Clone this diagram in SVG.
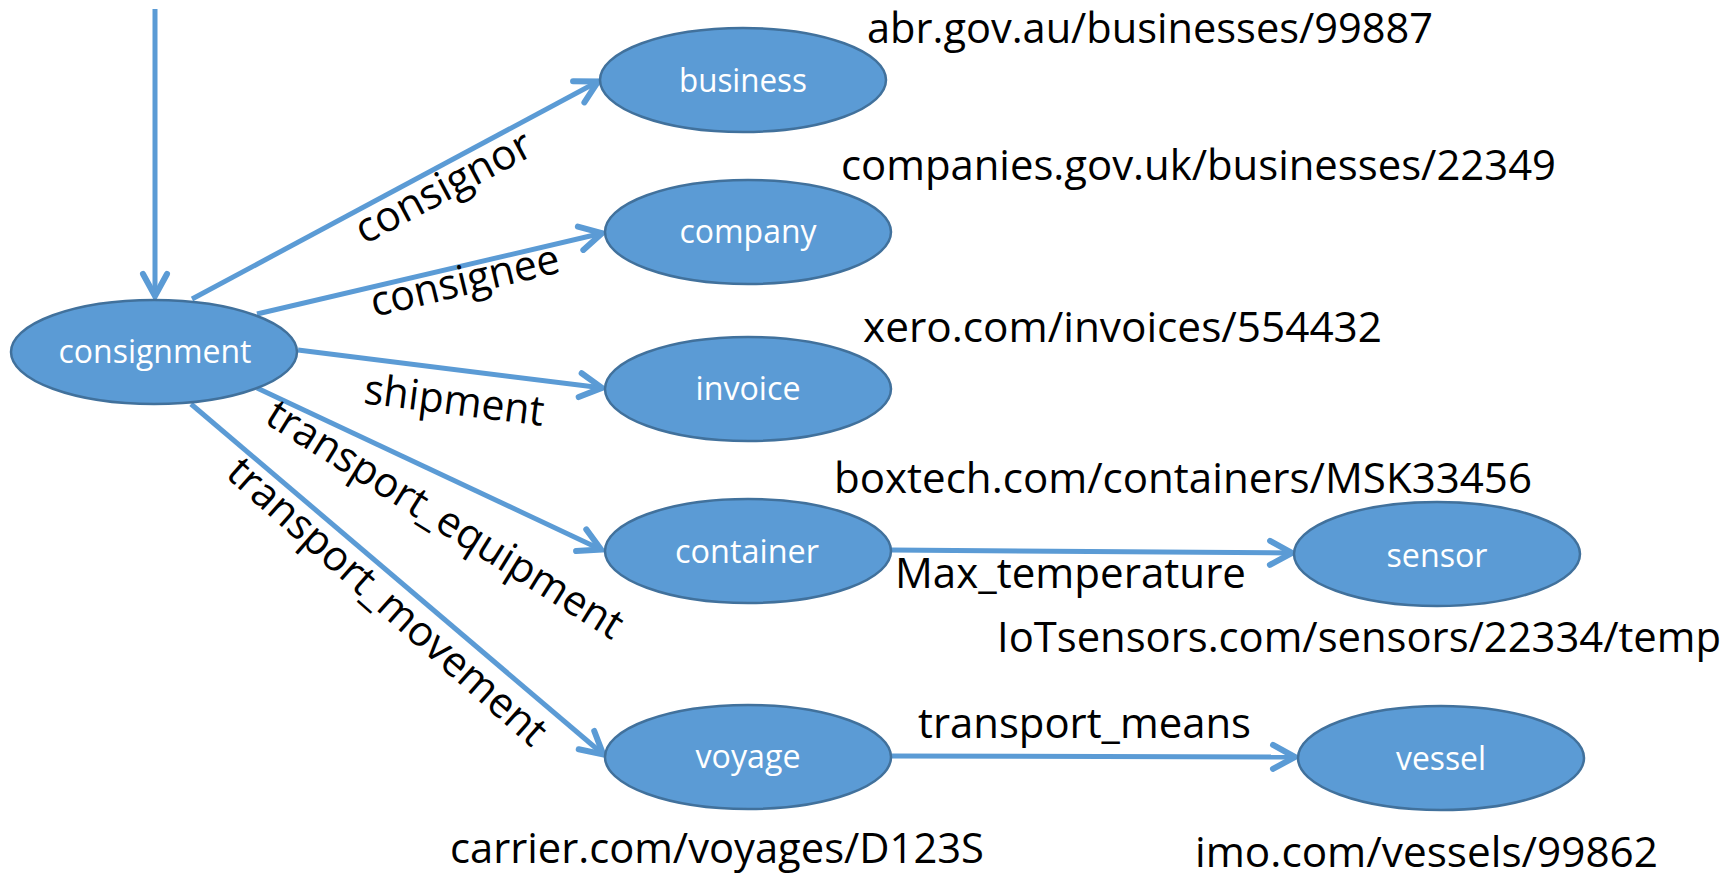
<svg xmlns="http://www.w3.org/2000/svg" width="1728" height="879" viewBox="0 0 1728 879">
<style>
.node{fill:#5B9BD5;stroke:#41719C;stroke-width:2.5}
.nl{font-family:"Open Sans","Noto Sans","Liberation Sans",sans-serif;font-size:33px;fill:#ffffff;text-anchor:middle}
.tl{font-family:"Open Sans","Noto Sans","Liberation Sans",sans-serif;font-size:42px;fill:#000000}
.el{font-family:"Open Sans","Noto Sans","Liberation Sans",sans-serif;font-size:42px;fill:#000000;text-anchor:middle}
.edge{stroke:#5B9BD5;stroke-width:5;fill:none;marker-end:url(#arr)}
</style>
<defs>
<marker id="arr" markerUnits="userSpaceOnUse" viewBox="-28 -16 32 32" refX="0" refY="0" markerWidth="32" markerHeight="32" orient="auto" overflow="visible">
<path d="M-23,-12 L-1,0 L-23,12" fill="none" stroke="#5B9BD5" stroke-width="6" stroke-linejoin="miter" stroke-linecap="round"/>
</marker>
</defs>
<g id="connectors">
<line class="edge" x1="155" y1="9" x2="155" y2="297"/>
<line class="edge" x1="192" y1="299" x2="599" y2="81"/>
<line class="edge" x1="257" y1="314" x2="603" y2="233"/>
<line class="edge" x1="298" y1="350" x2="603" y2="388"/>
<line class="edge" x1="257" y1="388" x2="602" y2="550"/>
<line class="edge" x1="191" y1="404" x2="604" y2="755"/>
<line class="edge" x1="891" y1="550" x2="1293" y2="553"/>
<line class="edge" x1="891" y1="756" x2="1296" y2="757"/>
<text class="el" transform="translate(450,199.5) rotate(-28)" textLength="194" lengthAdjust="spacingAndGlyphs">consignor</text>
<text class="el" transform="translate(468,294.5) rotate(-13.5)" textLength="193" lengthAdjust="spacingAndGlyphs">consignee</text>
<text class="el" transform="translate(452.5,414.5) rotate(7.2)" textLength="181" lengthAdjust="spacingAndGlyphs">shipment</text>
<text class="el" transform="translate(444,521) rotate(32)" y="12" textLength="412" lengthAdjust="spacingAndGlyphs">transport_equipment</text>
<text class="el" transform="translate(386,603) rotate(41.5)" y="12" textLength="411" lengthAdjust="spacingAndGlyphs">transport_movement</text>
<text class="tl" x="895" y="588" textLength="351" lengthAdjust="spacingAndGlyphs">Max_temperature</text>
<text class="tl" x="918" y="738" textLength="333" lengthAdjust="spacingAndGlyphs">transport_means</text>
</g>
<g id="consignment">
<ellipse class="node" cx="154" cy="352" rx="143" ry="52"/>
<text class="nl" x="155" y="363" textLength="193" lengthAdjust="spacingAndGlyphs">consignment</text>
</g>
<g id="business">
<ellipse class="node" cx="743" cy="80" rx="143" ry="52"/>
<text class="nl" x="743" y="92" textLength="128" lengthAdjust="spacingAndGlyphs">business</text>
<text class="tl" x="867" y="43" textLength="566" lengthAdjust="spacingAndGlyphs">abr.gov.au/businesses/99887</text>
</g>
<g id="company">
<ellipse class="node" cx="748" cy="232" rx="143" ry="52"/>
<text class="nl" x="748" y="243" textLength="137" lengthAdjust="spacingAndGlyphs">company</text>
<text class="tl" x="841" y="180" textLength="715" lengthAdjust="spacingAndGlyphs">companies.gov.uk/businesses/22349</text>
</g>
<g id="invoice">
<ellipse class="node" cx="748" cy="389" rx="143" ry="52"/>
<text class="nl" x="748" y="400" textLength="105" lengthAdjust="spacingAndGlyphs">invoice</text>
<text class="tl" x="863" y="342" textLength="519" lengthAdjust="spacingAndGlyphs">xero.com/invoices/554432</text>
</g>
<g id="container">
<ellipse class="node" cx="748" cy="551" rx="143" ry="52"/>
<text class="nl" x="747" y="563" textLength="144" lengthAdjust="spacingAndGlyphs">container</text>
<text class="tl" x="834" y="493" textLength="698" lengthAdjust="spacingAndGlyphs">boxtech.com/containers/MSK33456</text>
</g>
<g id="sensor">
<ellipse class="node" cx="1437" cy="554" rx="143" ry="52"/>
<text class="nl" x="1437" y="567" textLength="101" lengthAdjust="spacingAndGlyphs">sensor</text>
<text class="tl" x="997" y="652" textLength="724" lengthAdjust="spacingAndGlyphs">IoTsensors.com/sensors/22334/temp</text>
</g>
<g id="voyage">
<ellipse class="node" cx="748" cy="757" rx="143" ry="52"/>
<text class="nl" x="748" y="768" textLength="105" lengthAdjust="spacingAndGlyphs">voyage</text>
<text class="tl" x="450" y="863" textLength="534" lengthAdjust="spacingAndGlyphs">carrier.com/voyages/D123S</text>
</g>
<g id="vessel">
<ellipse class="node" cx="1441" cy="758" rx="143" ry="52"/>
<text class="nl" x="1441" y="770" textLength="90" lengthAdjust="spacingAndGlyphs">vessel</text>
<text class="tl" x="1195" y="867" textLength="463" lengthAdjust="spacingAndGlyphs">imo.com/vessels/99862</text>
</g>
</svg>
